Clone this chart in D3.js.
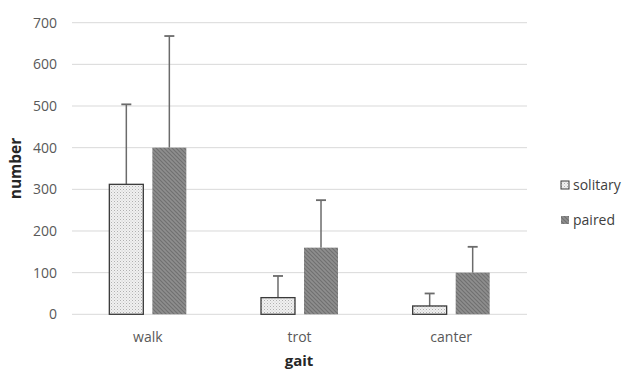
<!DOCTYPE html>
<html><head><meta charset="utf-8">
<script src="https://cdn.jsdelivr.net/npm/d3@7"></script>
<style>body{margin:0;background:#fff;}svg{display:block;}text{font-family:"Open Sans",sans-serif;}</style>
</head><body>
<svg id="c" width="627" height="371"></svg>
<script>
const categories = ["walk", "trot", "canter"];
const seriesNames = ["solitary", "paired"];
const solitary = [312, 40, 20];
const paired = [400, 160, 100];
const solitaryErr = [192, 52, 30];
const pairedErr = [268, 114, 62];
const yTicks = [0, 100, 200, 300, 400, 500, 600, 700];

(function(){
const svg = d3.select("#c");
const defs = svg.append("defs");
const p1 = defs.append("pattern").attr("id","pSol").attr("patternUnits","userSpaceOnUse").attr("width",3).attr("height",3);
p1.append("rect").attr("width",3).attr("height",3).attr("fill","#f0f0f0");
p1.append("rect").attr("x",0).attr("y",0).attr("width",1).attr("height",1).attr("fill","#b0b0b0");
p1.append("rect").attr("x",1.5).attr("y",1.5).attr("width",1).attr("height",1).attr("fill","#c8c8c8");
const p2 = defs.append("pattern").attr("id","pPair").attr("patternUnits","userSpaceOnUse").attr("width",4).attr("height",4);
p2.append("rect").attr("width",4).attr("height",4).attr("fill","#8e8e8e");
p2.append("path").attr("d","M0,0 L4,4 M-1,3 L1,5 M3,-1 L5,1").attr("stroke","#707070").attr("stroke-width",1.2);

const mLeft = 72, mRight = 527, mTop = 22.7, mBottom = 314.3;
const y = d3.scaleLinear().domain([0, 700]).range([mBottom, mTop]);
const x0 = d3.scaleBand().domain(categories).range([mLeft, mRight]).paddingInner(0).paddingOuter(0);
const x1 = d3.scaleBand().domain(seriesNames).range([0, 77]).paddingInner(0.21).paddingOuter(0);
const grpOff = (x0.bandwidth() - 77) / 2;

svg.append("g").selectAll("line").data(yTicks).join("line")
  .attr("x1", mLeft).attr("x2", mRight)
  .attr("y1", d => y(d)).attr("y2", d => y(d))
  .attr("stroke", "#d9d9d9").attr("stroke-width", 1);

const yAxis = svg.append("g").attr("transform", `translate(${mLeft},0)`)
  .call(d3.axisLeft(y).tickValues(yTicks).tickSize(0).tickPadding(15));
yAxis.select(".domain").remove();
yAxis.selectAll("text").attr("fill","#595959").style("font-size","14px").style("font-family","'Open Sans',sans-serif");

const xAxis = svg.append("g").attr("transform", `translate(0,${mBottom})`)
  .call(d3.axisBottom(x0).tickSize(0).tickPadding(17.5));
xAxis.select(".domain").remove();
xAxis.selectAll("text").attr("fill","#595959").style("font-size","14px").style("font-family","'Open Sans',sans-serif");

const data = categories.map((c,i) => [
  {cat:c, s:"solitary", v:solitary[i], e:solitaryErr[i]},
  {cat:c, s:"paired", v:paired[i], e:pairedErr[i]}
]).flat();

const bx = d => x0(d.cat) + grpOff + x1(d.s);
const eg = svg.append("g");
eg.selectAll("line.v").data(data).join("line").attr("class","v")
  .attr("x1", d => bx(d) + x1.bandwidth()/2).attr("x2", d => bx(d) + x1.bandwidth()/2)
  .attr("y1", d => y(d.v)).attr("y2", d => y(d.v + d.e))
  .attr("stroke", "#6b6b6b").attr("stroke-width", 1.5);
eg.selectAll("line.c").data(data).join("line").attr("class","c")
  .attr("x1", d => bx(d) + x1.bandwidth()/2 - 5).attr("x2", d => bx(d) + x1.bandwidth()/2 + 5)
  .attr("y1", d => y(d.v + d.e)).attr("y2", d => y(d.v + d.e))
  .attr("stroke", "#6b6b6b").attr("stroke-width", 1.8);

svg.append("g").selectAll("rect").data(data).join("rect")
  .attr("x", d => bx(d)).attr("width", x1.bandwidth())
  .attr("y", d => y(d.v)).attr("height", d => y(0) - y(d.v))
  .attr("fill", d => d.s === "solitary" ? "url(#pSol)" : "url(#pPair)")
  .attr("stroke", d => d.s === "solitary" ? "#3a3a3a" : "none")
  .attr("stroke-width", 1.3);

svg.append("text").attr("transform", "translate(21,168.5) rotate(-90)")
  .attr("text-anchor","middle").attr("fill","#262626")
  .style("font-size","15.5px").style("font-weight","bold").text("number");
svg.append("text").attr("x", 299).attr("y", 365.5)
  .attr("text-anchor","middle").attr("fill","#262626")
  .style("font-size","15px").style("font-weight","bold").text("gait");

const lg = svg.append("g");
const legY = [185, 220];
seriesNames.forEach((s,i) => {
  lg.append("rect").attr("x", 561).attr("y", legY[i]-4).attr("width", 8).attr("height", 8)
    .attr("fill", i===0 ? "url(#pSol)" : "url(#pPair)")
    .attr("stroke", i===0 ? "#3a3a3a" : "none").attr("stroke-width", 1);
  lg.append("text").attr("x", 573).attr("y", legY[i]).attr("dy","0.35em")
    .attr("fill","#404040").style("font-size","14px").text(s);
});
})();
</script>
</body></html>
